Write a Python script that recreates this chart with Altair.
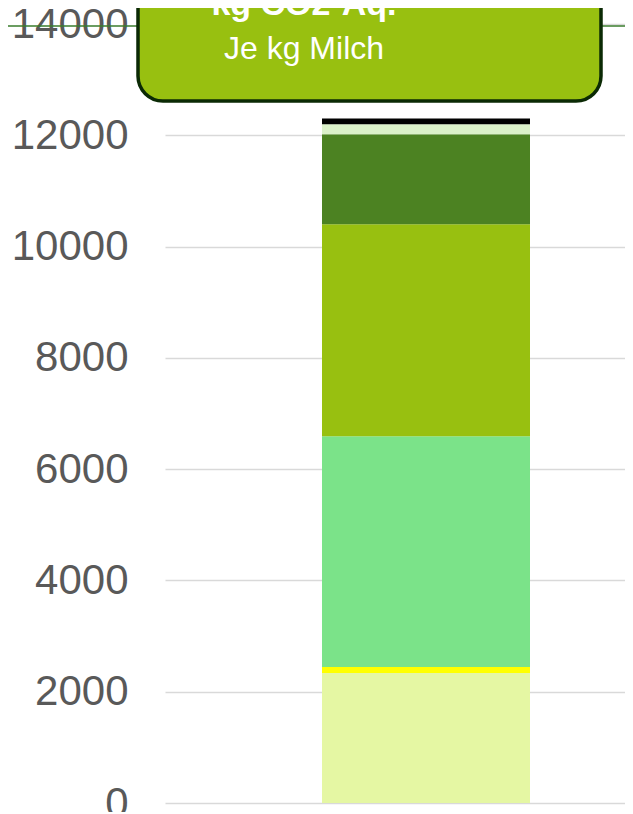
import altair as alt
import pandas as pd

# --- data -------------------------------------------------------------
categories = [
    "Futtermittel",
    "Einstreu",
    "Verdauung (Methan)",
    "Wirtschaftsdünger",
    "Düngung & Boden",
    "Energie",
    "Sonstiges",
]
values = [2335, 108, 4149, 3808, 1617, 180, 103]
colors = ["#E5F7A3", "#FFFF00", "#7BE389", "#98C010", "#4C8222", "#DBF1C9", "#000000"]
y_ticks = [0, 2000, 4000, 6000, 8000, 10000, 12000, 14000]
bar_label = "Milch"
title_lines = ["kg CO2-Aq.", "Je kg Milch"]

df = pd.DataFrame({
    "x": [bar_label] * len(categories),
    "kategorie": categories,
    "wert": values,
    "ordnung": list(range(len(categories))),
})

W, H = 460, 779

bars = alt.Chart(df).mark_bar(size=208).encode(
    x=alt.X("x:N", axis=None,
            scale=alt.Scale(paddingInner=0, paddingOuter=0.6058, align=0.623)),
    y=alt.Y("sum(wert):Q", stack="zero",
            scale=alt.Scale(domain=[0, 14000], nice=False),
            axis=alt.Axis(values=y_ticks, title=None, domain=False, ticks=False,
                          format="d",
                          labelFontSize=42, labelColor="#595959",
                          labelFont="Liberation Sans", labelPadding=37,
                          gridColor="#D9D9D9", gridWidth=1.5)),
    color=alt.Color("kategorie:N", legend=None,
                    scale=alt.Scale(domain=categories, range=colors)),
    order=alt.Order("ordnung:Q", sort="ascending"),
)

deco = pd.DataFrame({"a": [0]})

green_line = alt.Chart(deco).mark_rule(color="#3A7D2C", strokeWidth=1.5).encode(
    x=alt.value(-157), x2=alt.value(W), y=alt.value(2)
)

box = alt.Chart(deco).mark_rect(
    color="#98C010", stroke="#0B2A05", strokeWidth=3.5, cornerRadius=25
).encode(
    x=alt.value(-27), x2=alt.value(436), y=alt.value(-80), y2=alt.value(77)
)

t1 = alt.Chart(pd.DataFrame({"t": [title_lines[0]]})).mark_text(
    font="Liberation Sans", fontSize=34, fontWeight="bold", color="white",
    align="center", baseline="alphabetic"
).encode(text="t:N", x=alt.value(139), y=alt.value(-9))

t2 = alt.Chart(pd.DataFrame({"t": [title_lines[1]]})).mark_text(
    font="Liberation Sans", fontSize=32, color="white",
    align="center", baseline="alphabetic"
).encode(text="t:N", x=alt.value(139), y=alt.value(35))

chart = alt.layer(bars, green_line, box, t1, t2).properties(
    width=W, height=H,
    autosize=alt.AutoSizeParams(type="none"),
    padding={"left": 157, "top": 16, "right": 0, "bottom": 9},
).configure_view(stroke=None)

chart.save("out.html", embed_options={"renderer": "svg", "actions": False})
